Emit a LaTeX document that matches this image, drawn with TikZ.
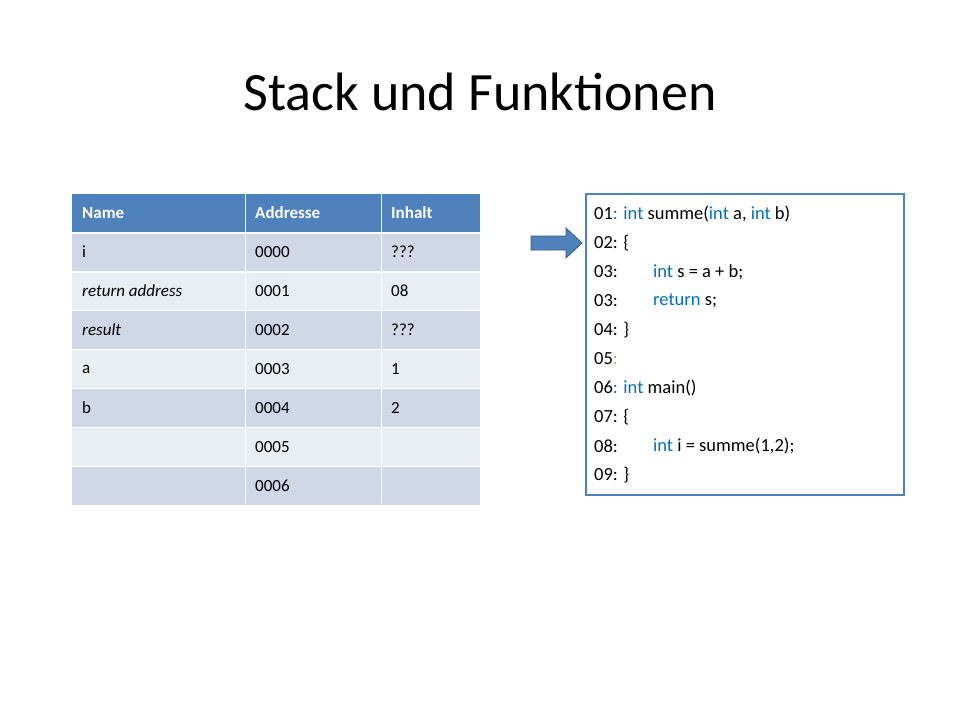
\documentclass[tikz,border=0pt]{standalone}
\usepackage{fontspec}
\setmainfont{Carlito}
\definecolor{hdr}{HTML}{4F81BD}
\definecolor{dk}{HTML}{D0D8E8}
\definecolor{lt}{HTML}{E9EDF4}
\definecolor{kw}{HTML}{0070C0}
\definecolor{gr}{HTML}{9BBB59}
\begin{document}
\begin{tikzpicture}[x=1pt,y=-1pt,
  cell/.style={anchor=west,font=\fontsize{17}{20}\selectfont,inner sep=0},
  hcell/.style={cell,text=white,font=\fontsize{17}{20}\selectfont\bfseries},
  code/.style={anchor=west,font=\fontsize{18.5}{22}\selectfont,inner sep=0}]
\useasboundingbox (0,0) rectangle (960,720);
\fill[white] (0,0) rectangle (960,720);
\node[font=\fontsize{54}{60}\selectfont] (title) at (480,92) {Stack und Funktionen};
% table backgrounds
\fill[hdr] (72,194) rectangle (480,232);
\foreach \t/\c in {232/dk,272/lt,310/dk,349/lt,388/dk,427/lt,466/dk}{
  \fill[\c] (72,\t) rectangle (480,\t+38.5);}
\draw[white,line width=2] (72,233) -- (480,233);
\foreach \t in {272,310,349,388,427,466}{\draw[white,line width=1] (72,\t) -- (480,\t);}
\draw[white,line width=1] (245,194) -- (245,504) (381,194) -- (381,504);
\node[hcell] (h1) at (82,213) {Name};
\node[hcell] (h2) at (255,213) {Addresse};
\node[hcell] (h3) at (391,213) {Inhalt};
\foreach \y/\a/\b/\c [count=\i] in {252/i/0000/???,291/\textit{return address}/0001/08,330/\textit{result}/0002/???,369/a/0003/1,408/b/0004/2,447//0005/,486//0006/}{
  \node[cell] (n\i) at (82,\y) {\a};
  \node[cell] (d\i) at (255,\y) {\b};
  \node[cell] (c\i) at (391,\y) {\c};}
% code box
\draw[hdr,line width=2.5] (586,194) rectangle (904,495);
\node[code] (l1) at (594,214) {01\textcolor{kw}{: int} summe(\textcolor{kw}{int} a, \textcolor{kw}{int} b)};
\node[code] (l2) at (594,243) {02: \{};
\node[code] (l3) at (594,272) {03:};
\node[code] (l3b) at (653,272) {\textcolor{kw}{int} s = a + b;};
\node[code] (l4) at (594,301) {03:};
\node[code] (l4b) at (653,301) {\textcolor{kw}{return} s;};
\node[code] (l5) at (594,330) {04: \}};
\node[code] (l6) at (594,359) {05\textcolor{gr}{:}};
\node[code] (l7) at (594,388) {06\textcolor{kw}{: int} main()};
\node[code] (l8) at (594,417) {07: \{};
\node[code] (l9) at (594,446) {08:};
\node[code] (l9b) at (653,446) {\textcolor{kw}{int} i = summe(1,2);};
\node[code] (l10) at (594,475) {09: \}};
% arrow
\filldraw[fill=hdr,draw=hdr!70!black,line width=0.8]
 (531,236) -- (566,236) -- (566,228) -- (582,243) -- (566,258) -- (566,250) -- (531,250) -- cycle;
\end{tikzpicture}
\end{document}
